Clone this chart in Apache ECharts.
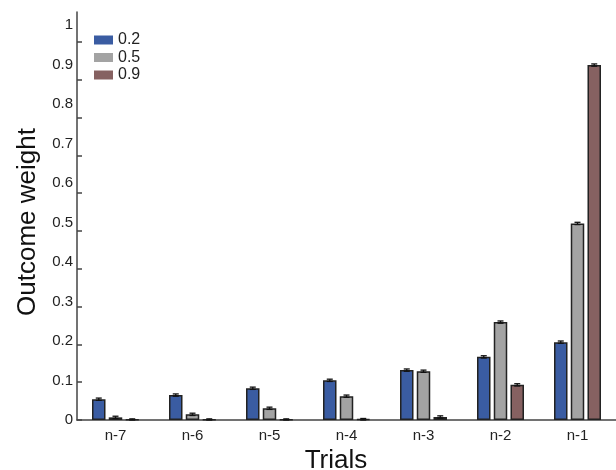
<!DOCTYPE html>
<html>
<head>
<meta charset="utf-8">
<script src="https://cdn.jsdelivr.net/npm/echarts@6/dist/echarts.min.js"></script>
<style>html,body{margin:0;padding:0;background:#fff}#c{width:616px;height:470px}</style>
</head>
<body>
<div id="c"></div>
<script>
const categories = ['n-7','n-6','n-5','n-4','n-3','n-2','n-1'];
const seriesNames = ['0.2','0.5','0.9'];
const values02 = [0.055, 0.066, 0.084, 0.105, 0.132, 0.167, 0.206];
const values05 = [0.007, 0.015, 0.031, 0.063, 0.129, 0.259, 0.520];
const values09 = [0.001, 0.001, 0.001, 0.002, 0.008, 0.093, 0.939];
const errors02 = [0.003, 0.003, 0.003, 0.003, 0.003, 0.003, 0.003];
const errors05 = [0.003, 0.003, 0.003, 0.003, 0.003, 0.003, 0.003];
const errors09 = [0.002, 0.002, 0.002, 0.002, 0.003, 0.003, 0.003];
const yTicks = [0, 0.1, 0.2, 0.3, 0.4, 0.5, 0.6, 0.7, 0.8, 0.9, 1];
const yTickLabels = ['0','0.1','0.2','0.3','0.4','0.5','0.6','0.7','0.8','0.9','1'];

const colors = ['#3a5ca2', '#a3a3a3', '#866161'];
const barW = 13.5, gapRatio = 0.24;
const step = barW * (1 + gapRatio);
const FONT = 'Liberation Sans, Arial, Helvetica, sans-serif';

const chart = echarts.init(document.getElementById('c'));
const allVals = [values02, values05, values09];
const allErrs = [errors02, errors05, errors09];

const barSeries = allVals.map((vals, i) => ({
  name: seriesNames[i],
  type: 'bar',
  xAxisIndex: 0, yAxisIndex: 0,
  barWidth: barW,
  barGap: (gapRatio * 100) + '%',
  data: vals,
  itemStyle: { color: colors[i], borderColor: '#222', borderWidth: 1.5 },
  emphasis: { disabled: true },
  z: 2
}));

const errSeries = allVals.map((vals, i) => ({
  type: 'custom',
  xAxisIndex: 0, yAxisIndex: 0,
  data: vals.map((v, j) => [j, v, allErrs[i][j]]),
  z: 5,
  silent: true,
  renderItem: function (params, api) {
    const idx = api.value(0), v = api.value(1), e = api.value(2);
    const off = (i - 1) * step;
    const top = api.coord([idx, v + e]);
    const bot = api.coord([idx, Math.max(0, v - e)]);
    const x = top[0] + off;
    const style = { stroke: '#111', lineWidth: 1.3, fill: null };
    return {
      type: 'group',
      children: [
        { type: 'line', shape: { x1: x, y1: top[1], x2: x, y2: bot[1] }, style },
        { type: 'line', shape: { x1: x - 3, y1: top[1], x2: x + 3, y2: top[1] }, style },
        { type: 'line', shape: { x1: x - 3, y1: bot[1], x2: x + 3, y2: bot[1] }, style }
      ]
    };
  }
}));

const gridH = 408;
chart.setOption({
  animation: false,
  backgroundColor: '#fff',
  grid: { left: 77, top: 12, width: 540, height: gridH },
  legend: {
    data: seriesNames,
    orient: 'vertical',
    left: 94, top: 32,
    padding: 0,
    itemWidth: 19, itemHeight: 9,
    itemGap: 1.5,
    itemTextGap: 6,
    icon: 'rect',
    itemStyle: { borderWidth: 0 },
    textStyle: { fontFamily: FONT, fontSize: 16, color: '#222' }
  },
  xAxis: {
    type: 'category',
    data: categories,
    axisLine: { lineStyle: { color: '#444', width: 1.5 } },
    axisTick: { show: false },
    axisLabel: { fontFamily: FONT, fontSize: 15, color: '#222', margin: 8 }
  },
  yAxis: [
    {
      type: 'value',
      min: 0, max: gridH / 378,
      axisLine: { show: true, lineStyle: { color: '#444', width: 1.5 } },
      axisTick: { show: true, inside: true, length: 5, customValues: yTicks, lineStyle: { color: '#444', width: 1.5 } },
      axisLabel: { show: false },
      splitLine: { show: false }
    },
    {
      type: 'value',
      position: 'left',
      min: 0, max: gridH / 395,
      axisLine: { show: false },
      axisTick: { show: false },
      splitLine: { show: false },
      axisLabel: {
        customValues: yTicks,
        formatter: function (v) {
          const k = yTicks.findIndex(t => Math.abs(t - v) < 1e-6);
          return k >= 0 ? yTickLabels[k] : '';
        },
        fontFamily: FONT, fontSize: 15, color: '#222', margin: 4
      }
    }
  ],
  graphic: [
    {
      type: 'text',
      x: 336, y: 461,
      style: { text: 'Trials', fontFamily: FONT, fontSize: 26, fill: '#111', align: 'center', verticalAlign: 'middle' }
    },
    {
      type: 'text',
      x: 28, y: 222,
      rotation: Math.PI / 2,
      style: { text: 'Outcome weight', fontFamily: FONT, fontSize: 26, fill: '#111', align: 'center', verticalAlign: 'middle' }
    }
  ],
  series: barSeries.concat(errSeries)
});
</script>
</body>
</html>
